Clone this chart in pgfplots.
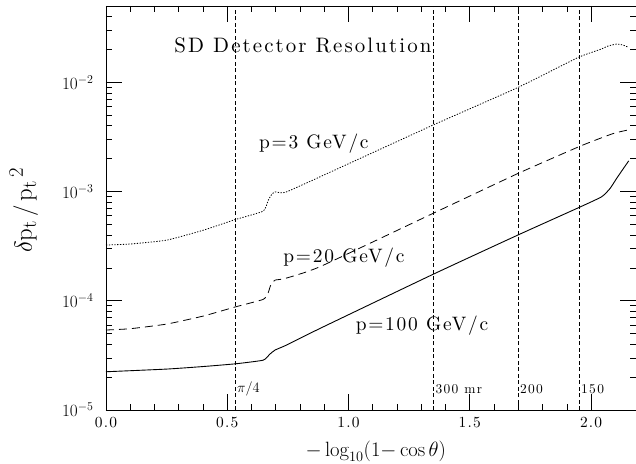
\documentclass[border=0pt]{standalone}
\usepackage{fontspec}
\usepackage{pgfplots}
\pgfplotsset{compat=1.18}
\newfontfamily\lbfont{lmroman10-regular.otf}[LetterSpace=10]
\newfontfamily\pfont{lmroman10-regular.otf}[LetterSpace=9]
\newfontfamily\tkfont{lmroman10-regular.otf}[LetterSpace=8]
\newcommand{\lbl}[1]{\lbfont\fontsize{21}{22}\selectfont #1}
\newcommand{\plbl}[1]{\pfont\fontsize{19.5}{20}\selectfont #1}
\newcommand{\sml}[1]{\lbfont\fontsize{13.5}{14}\selectfont #1}
\begin{document}
\begin{tikzpicture}
\begin{axis}[
  scale only axis,
  width=530bp, height=404bp,
  xmin=0, xmax=2.185,
  ymode=log, ymin=1e-5, ymax=0.05,
  xtick={0,0.5,1,1.5,2},
  xticklabels={0.0,0.5,1.0,1.5,2.0},
  minor x tick num=4,
  xticklabel style={font=\tkfont\fontsize{15.5}{15.5}\selectfont, yshift=-4bp},
  yticklabel style={font=\fontsize{17.28}{17.28}\selectfont, xshift=-9bp},
  tick align=inside,
  major tick length=16bp,
  minor tick length=6bp,
  every tick/.style={black, line width=0.7pt},
  axis line style={line width=0.8pt},
  xlabel={$-\log_{10}(1{-}\cos\theta)$},
  xlabel style={font=\fontsize{20.74}{21}\selectfont, at={(axis description cs:0.509,-0.102)}, anchor=center},
  ylabel={$\delta\mathrm{p}_\mathrm{t}\,/\,\mathrm{p}_\mathrm{t}{}^{\,2}$},
  ylabel style={font=\fontsize{24.88}{25}\selectfont, at={(axis description cs:-0.155,0.495)}, anchor=center},
]
% vertical reference lines
\addplot[black, line width=0.8pt, dash pattern=on 4bp off 2.5bp] coordinates {(0.533,1e-5) (0.533,0.05)};
\addplot[black, line width=0.8pt, dash pattern=on 4bp off 2.5bp] coordinates {(1.350,1e-5) (1.350,0.05)};
\addplot[black, line width=0.8pt, dash pattern=on 4bp off 2.5bp] coordinates {(1.700,1e-5) (1.700,0.05)};
\addplot[black, line width=0.8pt, dash pattern=on 4bp off 2.5bp] coordinates {(1.950,1e-5) (1.950,0.05)};
% p = 3 GeV/c (dotted)
\addplot[black, line width=0.8pt, dash pattern=on 1.3bp off 1.5bp, smooth, tension=0.3] coordinates {
(0,3.24e-4) (0.1,3.31e-4) (0.25,3.59e-4) (0.4,4.42e-4) (0.535,5.56e-4) (0.648,6.62e-4)
(0.669,8.34e-4) (0.685,9.55e-4) (0.697,9.93e-4) (0.738,9.82e-4) (0.868,1.32e-3)
(1.348,4.06e-3) (1.697,8.95e-3) (1.947,1.69e-2) (2.036,1.995e-2) (2.07,2.15e-2)
(2.105,2.24e-2) (2.13,2.20e-2) (2.15,2.11e-2)};
% p = 20 GeV/c (dashed)
\addplot[black, line width=0.8pt, dash pattern=on 8bp off 5bp, smooth, tension=0.3] coordinates {
(0,5.40e-5) (0.1,5.55e-5) (0.25,6.12e-5) (0.4,7.24e-5) (0.535,8.81e-5) (0.648,1.03e-4)
(0.668,1.175e-4) (0.679,1.39e-4) (0.697,1.545e-4) (0.738,1.60e-4) (0.882,2.05e-4)
(1.348,6.31e-4) (1.697,1.46e-3) (1.947,2.56e-3) (2.04,3.09e-3) (2.098,3.44e-3) (2.149,3.65e-3)};
% p = 100 GeV/c (solid)
\addplot[black, line width=0.9pt, smooth, tension=0.3] coordinates {
(0,2.24e-5) (0.25,2.37e-5) (0.4,2.50e-5) (0.535,2.65e-5) (0.648,2.86e-5)
(0.675,3.24e-5) (0.697,3.54e-5) (0.745,3.94e-5) (0.882,5.58e-5)
(1.348,1.746e-4) (1.697,3.99e-4) (1.947,7.10e-4) (2.043,8.95e-4) (2.078,1.067e-3)
(2.105,1.318e-3) (2.133,1.625e-3) (2.155,1.91e-3)};
% labels
\node at (axis cs:0.812,0.0218) {\lbl{SD Detector Resolution}};
\node at (axis cs:0.857,2.77e-3) {\plbl{p=3 GeV/c}};
\node at (axis cs:0.981,2.46e-4) {\plbl{p=20 GeV/c}};
\node at (axis cs:1.303,5.87e-5) {\plbl{p=100 GeV/c}};
\node[anchor=west, inner sep=0pt] at (axis cs:0.540,1.56e-5) {\fontsize{14.4}{15}\selectfont$\pi/4$};
\node[anchor=west, inner sep=0pt] at (axis cs:1.358,1.56e-5) {\sml{300 mr}};
\node[anchor=west, inner sep=0pt] at (axis cs:1.706,1.56e-5) {\sml{200}};
\node[anchor=west, inner sep=0pt] at (axis cs:1.958,1.56e-5) {\sml{150}};
\coordinate (SW) at (rel axis cs:0,0);
\coordinate (NE) at (rel axis cs:1,1);
\end{axis}
\pgfresetboundingbox
\path[use as bounding box] ([xshift=-106bp,yshift=-54bp]SW) rectangle ([yshift=6bp]NE);
\end{tikzpicture}
\end{document}
